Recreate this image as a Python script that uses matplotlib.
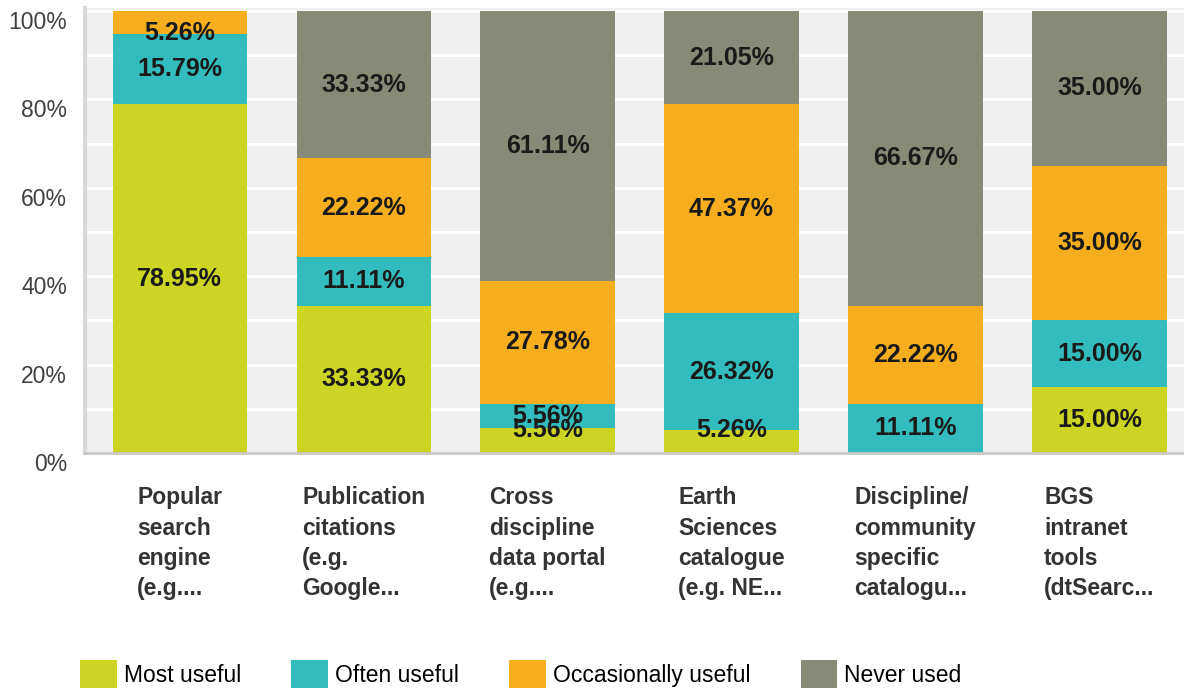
import matplotlib
matplotlib.use('Agg')
import matplotlib.pyplot as plt
import numpy as np
from matplotlib.patches import Patch

categories = ["Popular\nsearch\nengine\n(e.g....",
              "Publication\ncitations\n(e.g.\nGoogle...",
              "Cross\ndiscipline\ndata portal\n(e.g....",
              "Earth\nSciences\ncatalogue\n(e.g. NE...",
              "Discipline/\ncommunity\nspecific\ncatalogu...",
              "BGS\nintranet\ntools\n(dtSearc..."]
series_names = ["Most useful", "Often useful", "Occasionally useful", "Never used"]
most_useful = [78.95, 33.33, 5.56, 5.26, 0.0, 15.00]
often_useful = [15.79, 11.11, 5.56, 26.32, 11.11, 15.00]
occasionally_useful = [5.26, 22.22, 27.78, 47.37, 22.22, 35.00]
never_used = [0.0, 33.33, 61.11, 21.05, 66.67, 35.00]
y_ticks = [0, 20, 40, 60, 80, 100]
y_tick_labels = ["0%", "20%", "40%", "60%", "80%", "100%"]

colors = ["#cdd424", "#33bcbd", "#f7ae1e", "#888a78"]
series = [most_useful, often_useful, occasionally_useful, never_used]

plt.rcParams['font.family'] = ['Liberation Sans', 'DejaVu Sans']

fig = plt.figure(figsize=(11.84, 6.88), dpi=100)
ax = fig.add_axes([85/1184, 1 - 453/688, 1 - 85/1184, (453 - 8)/688])
ax.set_facecolor("#efefef")

x = np.arange(len(categories))
bottom = np.zeros(len(categories))
width = 0.73
for vals, col in zip(series, colors):
    vals = np.array(vals)
    ax.bar(x, vals, width, bottom=bottom, color=col, zorder=3)
    for xi, b, v in zip(x, bottom, vals):
        if v > 0:
            yc = min(max(b + v / 2, 5.2), 95.0)
            ax.text(xi, yc, f"{v:.2f}%", ha='center', va='center',
                    fontsize=18, fontweight='bold', color='#1a1a1a', zorder=5)
    bottom = bottom + vals

ax.set_ylim(0, 100.7)
ax.set_xlim(-0.515, 5.46)
ax.set_yticks(np.arange(0, 101, 10), minor=True)
ax.set_yticks(y_ticks)
ax.set_yticklabels(y_tick_labels, fontsize=16.5, color='#404040')
for t in ax.get_yticklabels():
    t.set_va('top')
ax.grid(axis='y', which='both', color='white', linewidth=2, zorder=0)
ax.tick_params(axis='y', which='both', length=0, pad=13)
ax.tick_params(axis='x', length=0, pad=24)
ax.set_xticks(x)
ax.set_xticklabels(categories, fontsize=16.5, fontweight='bold', color='#333333',
                   linespacing=1.4)
for t in ax.get_xticklabels():
    t.set_multialignment('left')

for s in ['top', 'right']:
    ax.spines[s].set_visible(False)
ax.spines['left'].set_color('#d9d9d9')
ax.spines['left'].set_linewidth(3)
ax.spines['bottom'].set_color('#c8c8c8')
ax.spines['bottom'].set_linewidth(2)
ax.spines['bottom'].set_zorder(4)

handles = [Patch(facecolor=c, edgecolor='none', label=n) for c, n in zip(colors, series_names)]
fig.legend(handles=handles, loc='center left', bbox_to_anchor=(80/1184, 1 - 674/688),
           ncol=4, frameon=False, fontsize=16.5, handlelength=1.6, handleheight=1.5,
           handletextpad=0.3, columnspacing=2.2, borderpad=0, borderaxespad=0)

fig.savefig("out.png", dpi=100)
